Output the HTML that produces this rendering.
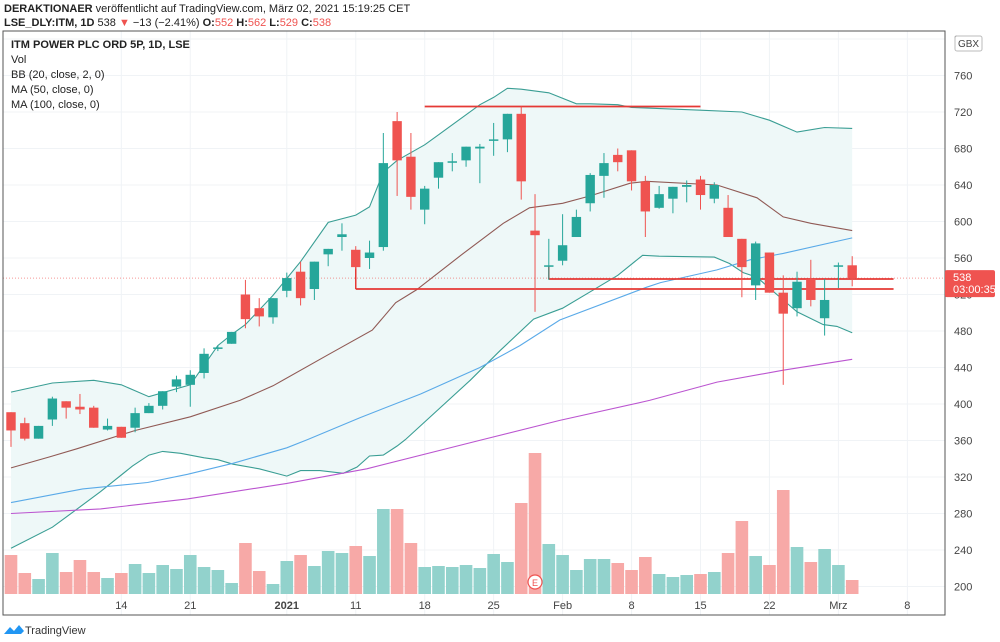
<!DOCTYPE html>
<html><head><meta charset="utf-8"><style>
body{margin:0;background:#fff;font-family:"Liberation Sans",sans-serif;}
svg{display:block}
</style></head><body>
<svg id="c" width="1000" height="642" xmlns="http://www.w3.org/2000/svg">
<text x="4" y="12" font-size="11" fill="#222"><tspan font-weight="bold">DERAKTIONAER</tspan> veröffentlicht auf TradingView.com, März 02, 2021 15:19:25 CET</text>
<text x="4" y="26" font-size="11" fill="#222"><tspan font-weight="bold">LSE_DLY:ITM, 1D</tspan> 538 <tspan fill="#ef5350">▼</tspan> −13 (−2.41%) <tspan font-weight="bold">O:</tspan><tspan fill="#ef5350">552</tspan> <tspan font-weight="bold">H:</tspan><tspan fill="#ef5350">562</tspan> <tspan font-weight="bold">L:</tspan><tspan fill="#ef5350">529</tspan> <tspan font-weight="bold">C:</tspan><tspan fill="#ef5350">538</tspan></text>
<g id="grid"></g>
<g id="bb"></g>
<g id="vol"></g>
<g id="lines"></g>
<g id="levels"></g>
<g id="candles"></g>
<rect x="3" y="31" width="942" height="584" fill="none" stroke="#555" stroke-width="1"/>
<line x1="945" y1="31" x2="945" y2="615" stroke="#555"/>
<g id="axis"></g>
<g font-size="11" fill="#222">
<text x="11" y="48" font-weight="bold">ITM POWER PLC ORD 5P, 1D, LSE</text>
<text x="11" y="63">Vol</text>
<text x="11" y="78">BB (20, close, 2, 0)</text>
<text x="11" y="93">MA (50, close, 0)</text>
<text x="11" y="108">MA (100, close, 0)</text>
</g>
<g>
<path d="M4 634 l6 -7 l4 4 l5 -6 l5 6 l-3 3 z" fill="#2196f3"/>
<text x="25" y="634" font-size="11" fill="#333">TradingView</text>
</g>
</svg>
<script>
const opens=[391,379,362,383,403,397,396,372,375,374,390,398,419,421,434,461,466,520,505,495,524,545,526,564,583,569,560,572,710,671,613,648,665,667,680,689,690,718,590,551,557,583,620,650,673,678,644,615,625,638,646,625,615,581,530,566,522,505,537,494,551,552];
const highs=[391,385,376,408,403,411,398,384,375,396,401,414,431,437,461,464,479,536,516,516,544,556,556,570,598,573,579,697,720,697,639,665,675,682,685,708,718,726,630,581,608,613,653,675,680,678,650,639,638,645,650,643,629,581,578,566,541,545,558,537,555,562];
const lows=[353,360,362,376,384,389,374,371,363,369,390,394,413,397,428,458,466,483,485,488,517,508,514,551,568,548,548,568,628,613,597,636,655,660,642,672,676,624,501,536,552,583,611,626,655,634,583,614,609,621,613,620,583,517,514,522,421,496,507,475,527,529];
const closes=[371,362,376,406,396,394,374,376,363,390,398,414,427,432,455,462,479,493,496,516,538,516,556,570,586,550,566,664,667,627,636,665,666,682,682,690,718,644,585,552,574,605,651,664,665,644,611,630,638,640,629,640,583,550,576,522,499,534,514,514,552,538];
const volumes=[3.9,2.1,1.5,4.1,2.2,3.4,2.2,1.6,2.1,3.0,2.1,2.9,2.5,3.9,2.7,2.4,1.1,5.1,2.3,1.0,3.3,3.9,2.8,4.3,4.1,4.8,3.8,8.5,8.5,5.1,2.7,2.8,2.7,2.9,2.6,4.0,3.2,9.1,14.1,5.0,3.9,2.4,3.5,3.5,3.1,2.4,3.7,2.0,1.7,1.9,2.0,2.2,4.1,7.3,3.8,2.9,10.4,4.7,3.2,4.5,2.9,1.4];
const upperIdx=[0,3,6,8,10,13,15,16,17,19,21,23,25,26,27,28,30,31,34,35,36,37,39,41,42,44,45,50,53,55,57,59,61];
const upperVal=[413,423,426,421,408,421,464,476,487,519,556,599,607,616,654,667,684,695,728,736,746,745,741,729,729,728,725,722,720,711,698,703,702];
const lowerIdx=[0,3,4,6.5,8.8,10,11,12.3,14,15,16.1,18,20,21,22.4,24.1,25.1,26,27,28,28.6,33.3,35.5,37.9,40,42,44,45.8,47,51,52.1,53.1,54.1,55,56,57,58.9,59.9,61];
const lowerVal=[242,265,276,304,332,344,348,346,341,339,334,329,321,327,327,324,331,343,344,354,361,426,459,493,505,523,541,563,562,561,554,544,539,527,514,501,487,485,478];
const midIdx=[0,2.8,4.8,9,13,16.6,19,23,26.2,27.9,29.4,32.8,35.7,37.6,40,42,44.9,46.1,51.2,54.1,56,58,61];
const midVal=[330,342,351,371,386,404,420,454,481,511,525,565,598,615,620,628,642,644,640,626,605,598,590];
const ma50Idx=[0,5.2,9.9,12.8,16.1,20,21.5,25.3,29.7,34,36.9,39.8,46.1,47.1,51.2,53.6,56,61];
const ma50Val=[292,307,314,323,335,352,361,385,411,440,464,492,528,533,547,558,565,582];
const ma100Idx=[0,6.5,12.8,20,25.8,34.2,39.8,46.3,51.2,56,61];
const ma100Val=[280,285,296,313,329,361,382,404,424,437,449];
const priceTicks=[200,240,280,320,360,400,440,480,520,560,600,640,680,720,760,800];
const dateLabels=["14","21","2021","11","18","25","Feb","8","15","22","Mrz","8"];
const dateIdx=[8,13,20,25,30,35,40,45,50,55,60,65];
const levelVals=[726,526,537];
const levelStart=[30,25,39];
const levelEnd=[50,64,64];
const lastClose=538;

const NS="http://www.w3.org/2000/svg";
const xs=i=>11+i*13.79;
const ys=v=>185+(640-v)*0.9125;
const yvol=v=>594-v*10;
function mk(tag,attrs,parent){const e=document.createElementNS(NS,tag);for(const k in attrs)e.setAttribute(k,attrs[k]);document.getElementById(parent).appendChild(e);return e;}
const TEAL="#26a69a",RED="#ef5350";

priceTicks.forEach(v=>{const g=mk('line',{x1:3,x2:945,y1:ys(v),y2:ys(v),stroke:"#f0f3f6"},'grid');

});
dateIdx.forEach(i=>{const g=mk('line',{x1:xs(i),x2:xs(i),y1:31,y2:615,stroke:"#f0f3f6"},'grid');

});

function pts(idx,val){return idx.map((d,k)=>xs(d).toFixed(1)+","+ys(val[k]).toFixed(1));}
const poly=pts(upperIdx,upperVal).concat(pts(lowerIdx,lowerVal).reverse()).join(" ");
const fill=mk('polygon',{points:poly,fill:"#eef8f8"},'bb');



volumes.forEach((v,i)=>{const up=closes[i]>=opens[i];
const r=mk('rect',{x:xs(i)-6.3,y:yvol(v),width:12.6,height:v*10,fill:up?"#92d2cc":"#f7a9a7"},'vol');

});
const eb=mk('circle',{cx:xs(38),cy:582,r:7,fill:"#fff",stroke:RED,"stroke-width":1.2},'vol');


const et=mk('text',{x:xs(38),y:586,"font-size":9,fill:RED,"text-anchor":"middle"},'vol');et.textContent="E";



function line(idx,val,color,name){const p=mk('polyline',{points:pts(idx,val).join(" "),fill:"none",stroke:color,"stroke-width":1.1},'lines');

}
line(upperIdx,upperVal,"#3a9e94",'bb-upper');
line(lowerIdx,lowerVal,"#3a9e94",'bb-lower');
line(midIdx,midVal,"#905a55",'bb-basis');
line(ma50Idx,ma50Val,"#5aaae8",'ma50-line');
line(ma100Idx,ma100Val,"#bb55d0",'ma100-line');

const pl=mk('line',{x1:3,x2:945,y1:ys(lastClose),y2:ys(lastClose),stroke:RED,"stroke-width":1,"stroke-dasharray":"1 2",opacity:0.6},'levels');


levelVals.forEach((v,k)=>{const l=mk('line',{x1:xs(levelStart[k]),x2:xs(levelEnd[k]),y1:ys(v),y2:ys(v),stroke:"#e53935","stroke-width":1.8},'levels');

});
[1,2].forEach(k=>{const i=levelStart[k];const l=mk('line',{x1:xs(i),x2:xs(i),y1:ys(Math.min(opens[i],closes[i])),y2:ys(levelVals[k]),stroke:"#e53935","stroke-width":1.5},'levels');

});

opens.forEach((o,i)=>{const c=closes[i],col=c>=o?TEAL:RED;
const w=mk('line',{x1:xs(i),x2:xs(i),y1:ys(highs[i]),y2:ys(lows[i]),stroke:col,"stroke-width":1},'candles');


const top=ys(Math.max(o,c)),h=Math.max(1.5,Math.abs(ys(o)-ys(c)));
const b=mk('rect',{x:xs(i)-4.7,y:top,width:9.4,height:h,fill:col},'candles');

});

priceTicks.forEach(v=>{const t=mk('text',{x:954,y:ys(v)+4,"font-size":11,fill:"#444"},'axis');t.textContent=v;

});
dateLabels.forEach((s,k)=>{const t=mk('text',{x:xs(dateIdx[k]),y:609,"font-size":11,fill:"#444","text-anchor":"middle","font-weight":s==="2021"?"bold":"normal"},'axis');t.textContent=s;

});
const gb=mk('rect',{x:955,y:36,width:27,height:15,fill:"#fff",stroke:"#bbb",rx:2},'axis');


const gt=mk('text',{x:968.5,y:47,"font-size":10,fill:"#444","text-anchor":"middle"},'axis');gt.textContent="GBX";


const pb=mk('rect',{x:945,y:ys(lastClose)-8,width:50,height:27,fill:RED,rx:2},'axis');


const pt=mk('text',{x:953,y:ys(lastClose)+3,"font-size":11,fill:"#fff"},'axis');pt.textContent=lastClose;


const ct=mk('text',{x:953,y:ys(lastClose)+15,"font-size":11,fill:"#fff"},'axis');ct.textContent="03:00:35";


</script>
</body></html>
